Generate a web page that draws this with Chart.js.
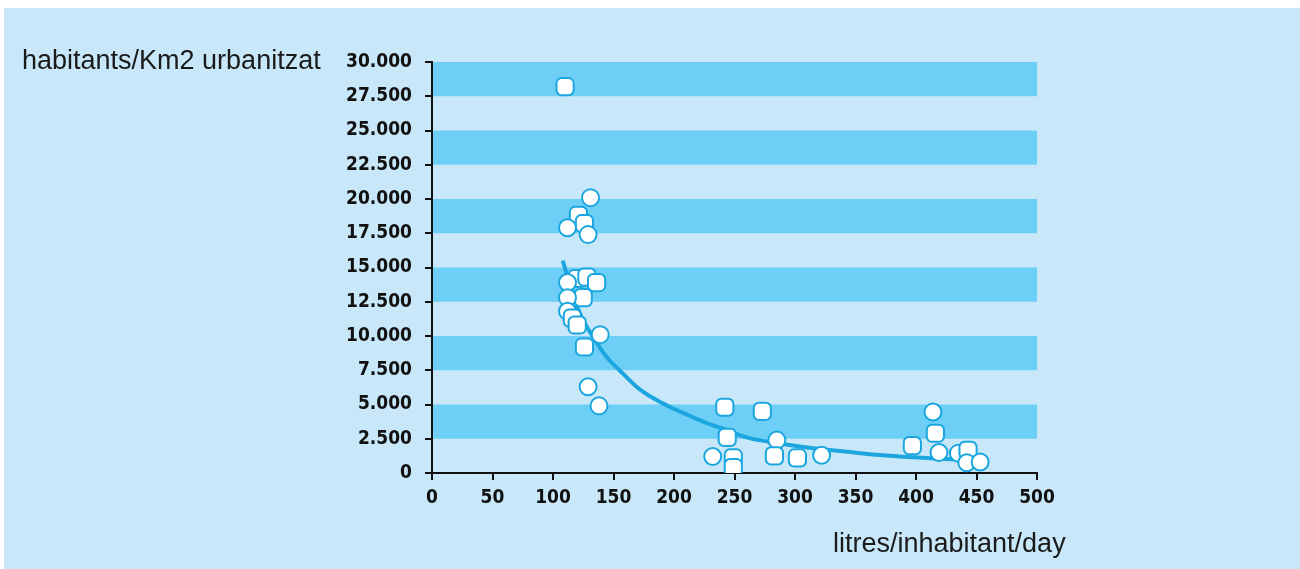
<!DOCTYPE html>
<html>
<head>
<meta charset="utf-8">
<script src="https://cdn.jsdelivr.net/npm/chart.js@4.4.1/dist/chart.umd.min.js"></script>
<style>
  html, body { margin: 0; background: #ffffff; }
  canvas { display: block; }
</style>
</head>
<body>
<canvas id="chart" width="1300" height="569"></canvas>
<script>
// Water consumption (litres per inhabitant per day) against urban density
const waterUse = [110, 131, 121, 126, 112, 129, 120, 128, 136, 112, 125, 112, 112, 116, 120, 139, 126, 129, 138,
                  242, 273, 244, 232, 249, 249, 285, 283, 302, 322, 397, 414, 416, 419, 435, 443, 442, 453];
const density  = [28200, 20100, 18800, 18200, 17900, 17400, 14200, 14300, 13900, 13900, 12800, 12800, 11800, 11300, 10800, 10100, 9200, 6300, 4900,
                  4800, 4500, 2600, 1200, 1100, 400, 2400, 1250, 1100, 1300, 2000, 4450, 2900, 1500, 1450, 1650, 750, 800];
const markers  = ['rectRounded', 'circle', 'rectRounded', 'rectRounded', 'circle', 'circle', 'rectRounded', 'rectRounded', 'rectRounded', 'circle',
                  'rectRounded', 'circle', 'circle', 'rectRounded', 'rectRounded', 'circle', 'rectRounded', 'circle', 'circle',
                  'rectRounded', 'rectRounded', 'rectRounded', 'circle', 'rectRounded', 'rectRounded', 'circle', 'rectRounded', 'rectRounded', 'circle',
                  'rectRounded', 'circle', 'rectRounded', 'circle', 'circle', 'rectRounded', 'circle', 'circle'];

// Trend curve through the cloud
const trendUse     = [108, 114, 122, 133, 144, 155, 169, 183, 197, 211, 227, 240, 260, 288, 315, 343, 370, 398, 425, 450];
const trendDensity = [15500, 13800, 11700, 9950, 8500, 7500, 6300, 5450, 4800, 4250, 3650, 3250, 2600, 2150, 1800, 1550, 1320, 1150, 1020, 900];

// Axis ranges and step between tick labels
const xRange = [0, 500], xStep = 50;
const yRange = [0, 30000], yStep = 2500;

const yTitle = 'habitants/Km2 urbanitzat';
const xTitle = 'litres/inhabitant/day';

const PANEL = '#c8e8f9';
const BAND = '#6dcff6';
const BLUE = '#1ba6df';
const INK = '#111111';
const tickFont = { family: '"DejaVu Sans Condensed", "DejaVu Sans", sans-serif', weight: 'bold', size: 19 };
const titleFont = '27px "Liberation Sans", Arial, sans-serif';

const groupThousands = v => String(v).replace(/\B(?=(\d{3})+(?!\d))/g, '.');

const backdrop = {
  id: 'backdrop',
  beforeDraw(chart) {
    const { ctx, chartArea: a, scales: { y } } = chart;
    ctx.save();
    ctx.fillStyle = PANEL;
    ctx.fillRect(4, 8, chart.width - 4, chart.height - 8);
    // alternate horizontal stripes between y ticks
    const vals = y.ticks.map(t => t.value);
    ctx.fillStyle = BAND;
    for (let i = 1; i < vals.length - 1; i += 2) {
      const top = y.getPixelForValue(vals[i + 1]);
      const bottom = y.getPixelForValue(vals[i]);
      ctx.fillRect(a.left, top, a.right - a.left, bottom - top);
    }
    ctx.restore();
  },
  afterDraw(chart) {
    const { ctx } = chart;
    ctx.save();
    ctx.fillStyle = '#1a1a1a';
    ctx.font = titleFont;
    ctx.textAlign = 'left';
    ctx.textBaseline = 'alphabetic';
    ctx.fillText(yTitle, 22, 69);
    ctx.fillText(xTitle, 833, 552);
    ctx.restore();
  }
};

const axisCommon = {
  type: 'linear',
  grid: { drawOnChartArea: false, drawTicks: true, tickLength: 7, color: INK, lineWidth: 2 },
  border: { display: true, color: INK, width: 2 }
};

new Chart(document.getElementById('chart'), {
  type: 'scatter',
  data: {
    datasets: [
      {
        label: 'municipalities',
        data: waterUse.map((x, i) => ({ x, y: density[i] })),
        pointStyle: markers,
        pointRadius: markers.map(m => (m === 'circle' ? 8.5 : 10)),
        pointBackgroundColor: '#ffffff',
        pointBorderColor: BLUE,
        pointBorderWidth: 2,
        order: 1
      },
      {
        type: 'line',
        label: 'trend',
        data: trendUse.map((x, i) => ({ x, y: trendDensity[i] })),
        borderColor: BLUE,
        borderWidth: 4,
        pointRadius: 0,
        fill: false,
        cubicInterpolationMode: 'monotone',
        order: 2
      }
    ]
  },
  options: {
    responsive: false,
    animation: false,
    events: [],
    layout: { padding: { top: 62, right: 263, left: 0, bottom: 0 } },
    plugins: { legend: { display: false }, tooltip: { enabled: false } },
    scales: {
      x: {
        ...axisCommon,
        min: xRange[0], max: xRange[1],
        ticks: { stepSize: xStep, color: INK, font: tickFont, padding: 7, maxRotation: 0, autoSkip: false },
        afterFit(scale) { scale.height = 96; }
      },
      y: {
        ...axisCommon,
        min: yRange[0], max: yRange[1],
        ticks: { stepSize: yStep, color: INK, font: tickFont, padding: 13, autoSkip: false, callback: v => groupThousands(v) },
        afterFit(scale) { scale.width = 432; }
      }
    }
  },
  plugins: [backdrop]
});
</script>
</body>
</html>
